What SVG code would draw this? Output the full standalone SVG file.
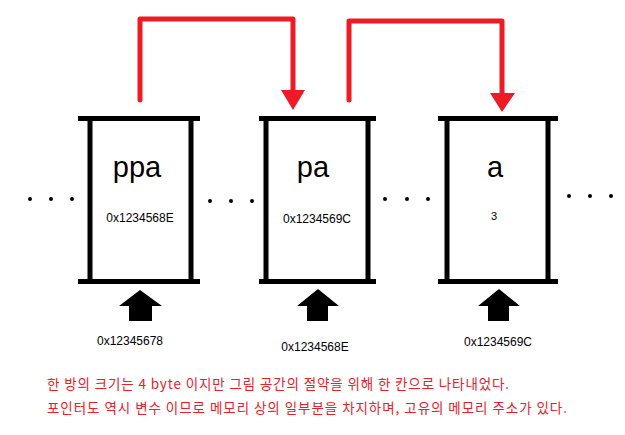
<svg xmlns="http://www.w3.org/2000/svg" width="625" height="435" viewBox="0 0 625 435">
<style>
.bar{stroke:#000;stroke-width:5;fill:none}
.name{font-family:"Liberation Sans",Arial,sans-serif;font-size:29px;fill:#000;text-anchor:middle}
.val{font-family:"Liberation Sans",Arial,sans-serif;font-size:12px;fill:#000;text-anchor:middle}
.addr{font-family:"Liberation Sans",Arial,sans-serif;font-size:12px;fill:#000;text-anchor:middle}
.dot{fill:#000}
.wire{stroke:#ED1C24;stroke-width:5;fill:none;stroke-linejoin:round;stroke-linecap:round}
.head{fill:#ED1C24}
.up{fill:#000}
.note{font-family:"Noto Sans CJK KR","Noto Sans",sans-serif;font-size:13.5px;fill:#E8202A}
</style>
<rect width="625" height="435" fill="#fff"/>
<g id="dots">
<circle class="dot" cx="30" cy="199" r="2"/><circle class="dot" cx="51" cy="199" r="2"/><circle class="dot" cx="72" cy="199" r="2"/>
<circle class="dot" cx="210" cy="201" r="2"/><circle class="dot" cx="231" cy="201" r="2"/><circle class="dot" cx="252" cy="201" r="2"/>
<circle class="dot" cx="385" cy="199" r="2"/><circle class="dot" cx="407" cy="199" r="2"/><circle class="dot" cx="428" cy="199" r="2"/>
<circle class="dot" cx="569" cy="196" r="2"/><circle class="dot" cx="590" cy="196" r="2"/><circle class="dot" cx="611" cy="196" r="2"/>
</g>
<g id="node-ppa">
<path class="bar" d="M78,118.5H200M78,281.5H200M90,118V282M191,118V282"/>
<text class="name" x="137" y="177">ppa</text>
<text class="val" x="140" y="222">0x1234568E</text>
</g>
<g id="node-pa">
<path class="bar" d="M259,118.5H376M259,281.5H376M266,118V282M368,118V282"/>
<text class="name" x="313" y="177">pa</text>
<text class="val" x="317" y="223">0x1234569C</text>
</g>
<g id="node-a">
<path class="bar" d="M438,118.5H558M438,281.5H558M447,118V282M548,118V282"/>
<text class="name" x="495" y="177">a</text>
<text class="val" x="494" y="220" style="font-size:11px">3</text>
</g>
<g id="addr-ppa">
<path class="up" d="M140,290L162,306H152V321H129V306H119Z"/>
<text class="addr" x="130" y="345">0x12345678</text>
</g>
<g id="addr-pa">
<path class="up" d="M318,289L339,306H328V321H307V306H297Z"/>
<text class="addr" x="315" y="351">0x1234568E</text>
</g>
<g id="addr-a">
<path class="up" d="M499,289L520,306H509V321H488V306H478Z"/>
<text class="addr" x="498" y="346">0x1234569C</text>
</g>
<g id="connectors">
<path class="wire" d="M140,100V19H293V92"/>
<path class="head" d="M281,90H305L293,110Z"/>
<path class="wire" d="M349,100V21H502V94"/>
<path class="head" d="M490,93H515L502,112Z"/>
</g>
<g id="notes">
<text class="note" x="47" y="389" textLength="462" lengthAdjust="spacing">한 방의 크기는 4 byte 이지만 그림 공간의 절약을 위해 한 칸으로 나타내었다.</text>
<text class="note" x="47" y="413" textLength="520" lengthAdjust="spacing">포인터도 역시 변수 이므로 메모리 상의 일부분을 차지하며, 고유의 메모리 주소가 있다.</text>
</g>
</svg>
